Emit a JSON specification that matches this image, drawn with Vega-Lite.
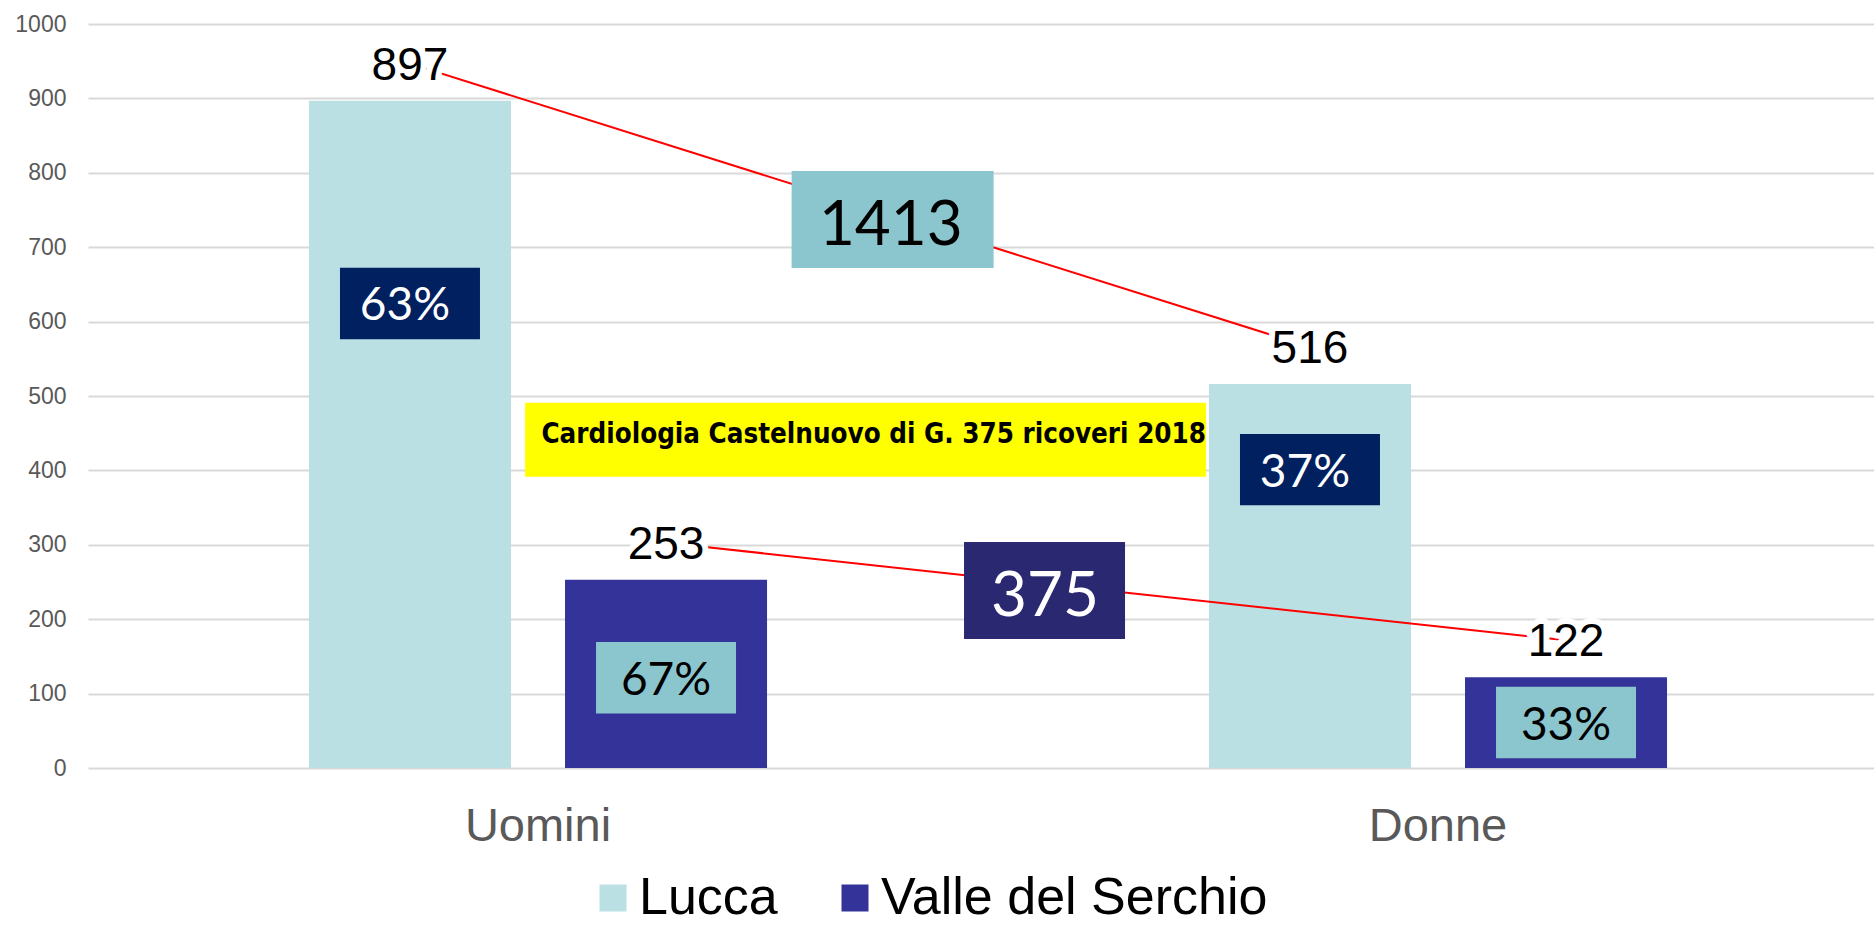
{
  "$schema": "https://vega.github.io/schema/vega-lite/v6.json",
  "autosize": {"type": "none"},
  "padding": {"left": 88, "top": 24, "right": 0, "bottom": 158},
  "width": 1786,
  "height": 744,
  "background": "white",
  "config": {
    "font": "Liberation Sans",
    "view": {"stroke": null},
    "axis": {"domain": false, "ticks": false, "tickSize": 0, "title": null}
  },
  "datasets": {
    "ricoveri": [
      {"sesso": "Uomini", "area": "Lucca", "ricoveri": 897},
      {"sesso": "Uomini", "area": "Valle del Serchio", "ricoveri": 253},
      {"sesso": "Donne", "area": "Lucca", "ricoveri": 516},
      {"sesso": "Donne", "area": "Valle del Serchio", "ricoveri": 122}
    ]
  },
  "layer": [
    {
      "data": {"name": "ricoveri"},
      "mark": {"type": "bar", "strokeWidth": 0},
      "encoding": {
        "x": {
          "field": "sesso", "type": "nominal",
          "scale": {"domain": ["Uomini", "Donne"], "paddingInner": 0, "paddingOuter": 0, "range": [0, 1800]},
          "axis": {"labelFontSize": 47, "labelColor": "#595959", "labelAngle": 0, "labelBaseline": "alphabetic", "labelPadding": 72, "grid": false}
        },
        "xOffset": {
          "field": "area", "type": "nominal",
          "scale": {"domain": ["Lucca", "Valle del Serchio"], "paddingInner": 0.211, "paddingOuter": 0.863}
        },
        "y": {
          "field": "ricoveri", "type": "quantitative",
          "scale": {"domain": [0, 1000], "nice": false},
          "axis": {"values": [0, 100, 200, 300, 400, 500, 600, 700, 800, 900, 1000], "format": "d", "grid": true, "gridColor": "#d9d9d9", "gridWidth": 2, "labelFontSize": 23, "labelColor": "#595959", "labelPadding": 22}
        },
        "color": {
          "field": "area", "type": "nominal",
          "scale": {"domain": ["Lucca", "Valle del Serchio"], "range": ["#bae0e3", "#343399"]},
          "legend": {
            "orient": "none", "legendX": 499, "legendY": 848, "direction": "horizontal",
            "title": null, "symbolType": "square", "symbolSize": 729, "symbolStrokeWidth": 0,
            "symbolOpacity": 1, "labelFontSize": 52, "labelFont": "Liberation Sans", "labelColor": "black",
            "labelOffset": 0, "columnPadding": 51, "padding": 0, "labelLimit": 1000
          }
        }
      }
    },
    {
      "data": {"name": "ricoveri"},
      "mark": {"type": "line", "color": "#ff0000", "strokeWidth": 2, "yOffset": -37},
      "encoding": {
        "x": {"field": "sesso", "type": "nominal"},
        "xOffset": {"field": "area", "type": "nominal"},
        "y": {"field": "ricoveri", "type": "quantitative"},
        "detail": {"field": "area", "type": "nominal"}
      }
    },
    {
      "data": {"name": "ricoveri"},
      "encoding": {
        "x": {"field": "sesso", "type": "nominal"},
        "xOffset": {"field": "area", "type": "nominal"},
        "y": {"field": "ricoveri", "type": "quantitative"},
        "text": {"field": "ricoveri", "type": "quantitative"}
      },
      "layer": [
        {"mark": {"type": "text", "fontSize": 46, "dy": -21, "baseline": "alphabetic", "fill": "white", "stroke": "white", "strokeWidth": 12, "strokeJoin": "round"}},
        {"mark": {"type": "text", "fontSize": 46, "dy": -21, "baseline": "alphabetic", "fill": "black"}}
      ]
    },
    {
      "data": {"values": [{"testo": "Cardiologia Castelnuovo di G. 375 ricoveri 2018"}]},
      "layer": [
        {
          "mark": {"type": "point", "shape": "M-1,-0.1087H1V0.1087H-1Z", "size": 463761, "filled": true, "fill": "#ffff00", "opacity": 1, "strokeWidth": 0},
          "encoding": {
            "x": {"datum": "Uomini", "type": "nominal", "bandPosition": 0.864},
            "y": {"datum": 441.3, "type": "quantitative"}
          }
        },
        {
          "mark": {"type": "text", "font": "Liberation Sans Narrow, Arial Narrow, DejaVu Sans Condensed, Liberation Sans", "fontWeight": "bold", "fontSize": 27.5, "baseline": "alphabetic", "fill": "black"},
          "encoding": {
            "x": {"datum": "Uomini", "type": "nominal", "bandPosition": 0.873},
            "y": {"datum": 436.4, "type": "quantitative"},
            "text": {"field": "testo"}
          }
        }
      ]
    },
    {
      "data": {"values": [{"totale": "1413"}]},
      "layer": [
        {
          "mark": {"type": "point", "shape": "M-1,-0.48H1V0.48H-1Z", "size": 40804, "filled": true, "fill": "#8bc5cd", "opacity": 1, "strokeWidth": 0},
          "encoding": {
            "x": {"datum": "Uomini", "type": "nominal", "bandPosition": 0.894},
            "y": {"datum": 737.2, "type": "quantitative"}
          }
        },
        {
          "mark": {"type": "text", "font": "Lato", "fontSize": 62, "baseline": "alphabetic", "fill": "black"},
          "encoding": {
            "x": {"datum": "Uomini", "type": "nominal", "bandPosition": 0.892},
            "y": {"datum": 703, "type": "quantitative"},
            "text": {"field": "totale"}
          }
        }
      ]
    },
    {
      "data": {"values": [{"totale": "375"}]},
      "layer": [
        {
          "mark": {"type": "point", "shape": "M-1,-0.6025H1V0.6025H-1Z", "size": 25921, "filled": true, "fill": "#2b2872", "opacity": 1, "strokeWidth": 0},
          "encoding": {
            "x": {"datum": "Donne", "type": "nominal", "bandPosition": 0.0628},
            "y": {"datum": 238.6, "type": "quantitative"}
          }
        },
        {
          "mark": {"type": "text", "font": "Lato", "fontSize": 62, "baseline": "alphabetic", "fill": "white"},
          "encoding": {
            "x": {"datum": "Donne", "type": "nominal", "bandPosition": 0.0633},
            "y": {"datum": 203.8, "type": "quantitative"},
            "text": {"field": "totale"}
          }
        }
      ]
    },
    {
      "data": {"values": [{"sesso": "Uomini", "area": "Lucca", "quota": "63%"}]},
      "encoding": {
        "x": {"field": "sesso", "type": "nominal"},
        "xOffset": {"field": "area", "type": "nominal"}
      },
      "layer": [
        {"mark": {"type": "point", "shape": "M-1,-0.51H1V0.51H-1Z", "size": 19600, "filled": true, "fill": "#002060", "opacity": 1, "strokeWidth": 0, "xOffset": -5},
         "encoding": {"y": {"datum": 624.3, "type": "quantitative"}}},
        {"mark": {"type": "text", "font": "Lato", "fontSize": 46, "baseline": "alphabetic", "fill": "white", "dx": -5},
         "encoding": {"y": {"datum": 602, "type": "quantitative"}, "text": {"field": "quota"}}}
      ]
    },
    {
      "data": {"values": [{"sesso": "Uomini", "area": "Valle del Serchio", "quota": "67%"}]},
      "encoding": {
        "x": {"field": "sesso", "type": "nominal"},
        "xOffset": {"field": "area", "type": "nominal"}
      },
      "layer": [
        {"mark": {"type": "point", "shape": "M-1,-0.51H1V0.51H-1Z", "size": 19600, "filled": true, "fill": "#8bc5cd", "opacity": 1, "strokeWidth": 0},
         "encoding": {"y": {"datum": 121.4, "type": "quantitative"}}},
        {"mark": {"type": "text", "font": "Lato", "fontSize": 46, "baseline": "alphabetic", "fill": "black"},
         "encoding": {"y": {"datum": 97.7, "type": "quantitative"}, "text": {"field": "quota"}}}
      ]
    },
    {
      "data": {"values": [{"sesso": "Donne", "area": "Lucca", "quota": "37%"}]},
      "encoding": {
        "x": {"field": "sesso", "type": "nominal"},
        "xOffset": {"field": "area", "type": "nominal"}
      },
      "layer": [
        {"mark": {"type": "point", "shape": "M-1,-0.51H1V0.51H-1Z", "size": 19600, "filled": true, "fill": "#002060", "opacity": 1, "strokeWidth": 0, "xOffset": -5},
         "encoding": {"y": {"datum": 401, "type": "quantitative"}}},
        {"mark": {"type": "text", "font": "Lato", "fontSize": 46, "baseline": "alphabetic", "fill": "white", "dx": -5},
         "encoding": {"y": {"datum": 378.2, "type": "quantitative"}, "text": {"field": "quota"}}}
      ]
    },
    {
      "data": {"values": [{"sesso": "Donne", "area": "Valle del Serchio", "quota": "33%"}]},
      "encoding": {
        "x": {"field": "sesso", "type": "nominal"},
        "xOffset": {"field": "area", "type": "nominal"}
      },
      "layer": [
        {"mark": {"type": "point", "shape": "M-1,-0.51H1V0.51H-1Z", "size": 19600, "filled": true, "fill": "#8bc5cd", "opacity": 1, "strokeWidth": 0},
         "encoding": {"y": {"datum": 61.2, "type": "quantitative"}}},
        {"mark": {"type": "text", "font": "Lato", "fontSize": 46, "baseline": "alphabetic", "fill": "black"},
         "encoding": {"y": {"datum": 37.6, "type": "quantitative"}, "text": {"field": "quota"}}}
      ]
    }
  ]
}
